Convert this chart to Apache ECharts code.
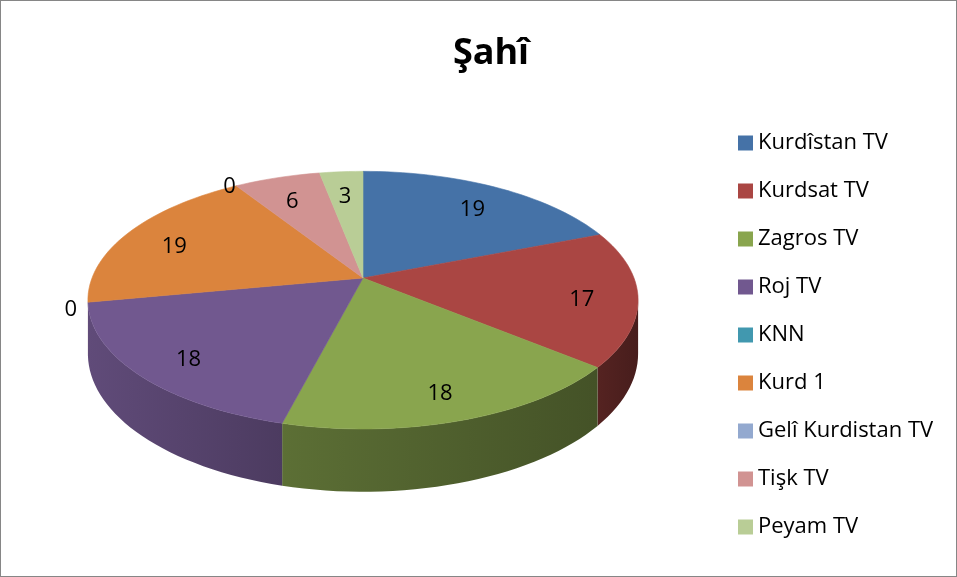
<!DOCTYPE html>
<html lang="ku">

<head>
    <meta charset="UTF-8">
    <script src="https://cdn.jsdelivr.net/npm/echarts@6/dist/echarts.min.js"></script>
    <title>Şahî</title>
    <style>
        html, body {
            margin: 0;
            padding: 0;
            background: #fff;
        }

        #main {
            width: 957px;
            height: 577px;
            box-sizing: border-box;
            border: 1px solid #868686;
        }
    </style>
</head>

<body>
    <div id="main"></div>
    <script>
        // data
        var names = ['Kurdîstan TV', 'Kurdsat TV', 'Zagros TV', 'Roj TV', 'KNN', 'Kurd 1', 'Gelî Kurdistan TV', 'Tişk TV', 'Peyam TV'];
        var values = [19, 17, 18, 18, 0, 19, 0, 6, 3];
        var colors = ['#4572A7', '#AA4643', '#89A54E', '#71588F', '#4198AF', '#DB843D', '#93A9CF', '#D19392', '#B9CD96'];

        var total = values.reduce(function (a, b) { return a + b; }, 0);

        // layout of the tilted pie (perspective ellipse)
        var CX = 362, CY = 277, RX = 271, RY = 125, P = 0.172, DEPTH = 52;
        var edge = Math.asin(P) * 180 / Math.PI;

        function proj(deg, f) {
            var r = deg * Math.PI / 180;
            var u = f * Math.sin(r), v = -f * Math.cos(r);
            var d = 1 - P * v;
            return [CX + RX * u / d, CY + RY * v / d, d];
        }

        function shade(hex, k) {
            var n = parseInt(hex.slice(1), 16);
            var r = Math.round(((n >> 16) & 255) * k);
            var g = Math.round(((n >> 8) & 255) * k);
            var b = Math.round((n & 255) * k);
            return 'rgb(' + r + ',' + g + ',' + b + ')';
        }

        function sideK(deg) {
            var t = (deg - 100) / 160;
            return 0.42 + 0.43 * Math.max(0, Math.min(1, t));
        }

        function renderSlice(params, api) {
            var i = params.seriesIndex;
            var val = api.value(0);
            var start = 0;
            for (var k = 0; k < i; k++) start += values[k];
            var a1 = start / total * 360;
            var a2 = (start + val) / total * 360;
            var children = [];
            if (a2 > a1) {
                // side face first
                var s1 = Math.max(a1, 90 + edge), s2 = Math.min(a2, 270 - edge);
                if (s2 > s1) {
                    var top = [], bot = [];
                    var m = Math.max(4, Math.ceil((s2 - s1) / 2));
                    for (var n = 0; n <= m; n++) {
                        var p = proj(s1 + (s2 - s1) * n / m, 1);
                        top.push([p[0], p[1]]);
                        bot.unshift([p[0], p[1] + DEPTH / p[2]]);
                    }
                    var xr = top[0][0], xl = top[top.length - 1][0];
                    var grad = {
                        type: 'linear', global: true, x: xl, y: 0, x2: xr, y2: 0,
                        colorStops: [
                            { offset: 0, color: shade(colors[i], sideK(s2)) },
                            { offset: 1, color: shade(colors[i], sideK(s1)) }
                        ]
                    };
                    children.push({
                        type: 'polygon',
                        shape: { points: top.concat(bot) },
                        style: { fill: grad }
                    });
                }
                // top face
                var pts = [[CX, CY]];
                var steps = Math.max(4, Math.ceil((a2 - a1) / 2));
                for (var j = 0; j <= steps; j++) {
                    var q = proj(a1 + (a2 - a1) * j / steps, 1);
                    pts.push([q[0], q[1]]);
                }
                children.push({
                    type: 'polygon',
                    shape: { points: pts },
                    style: { fill: colors[i], stroke: colors[i], lineWidth: 0.6 }
                });
            }
            // value label
            var mid = (a1 + a2) / 2;
            var lp = proj(mid, val > 0 ? 0.8 : 1.06);
            children.push({
                type: 'text',
                z2: 100,
                style: {
                    text: String(val),
                    x: lp[0],
                    y: lp[1] + 6,
                    align: 'center',
                    verticalAlign: 'middle',
                    fill: '#000',
                    fontSize: 22,
                    fontFamily: 'Open Sans'
                }
            });
            return { type: 'group', children: children };
        }

        var series = names.map(function (name, i) {
            return {
                type: 'custom',
                name: name,
                coordinateSystem: 'none',
                itemStyle: { color: colors[i] },
                renderItem: renderSlice,
                data: [[values[i]]],
                silent: true
            };
        });

        var myChart = echarts.init(document.getElementById('main'));
        var option = {
            backgroundColor: '#fff',
            animation: false,
            title: {
                text: 'Şahî',
                left: 485,
                top: 30,
                textAlign: 'center',
                textStyle: {
                    fontFamily: 'Open Sans',
                    fontWeight: 'bold',
                    fontSize: 36,
                    color: '#000'
                }
            },
            legend: {
                orient: 'vertical',
                left: 732,
                top: 126,
                icon: 'rect',
                itemWidth: 15,
                itemHeight: 15,
                itemGap: 26,
                data: names,
                textStyle: {
                    fontFamily: 'Open Sans',
                    fontSize: 22,
                    lineHeight: 22,
                    color: '#000'
                }
            },
            series: series
        };
        myChart.setOption(option);
    </script>
</body>

</html>
